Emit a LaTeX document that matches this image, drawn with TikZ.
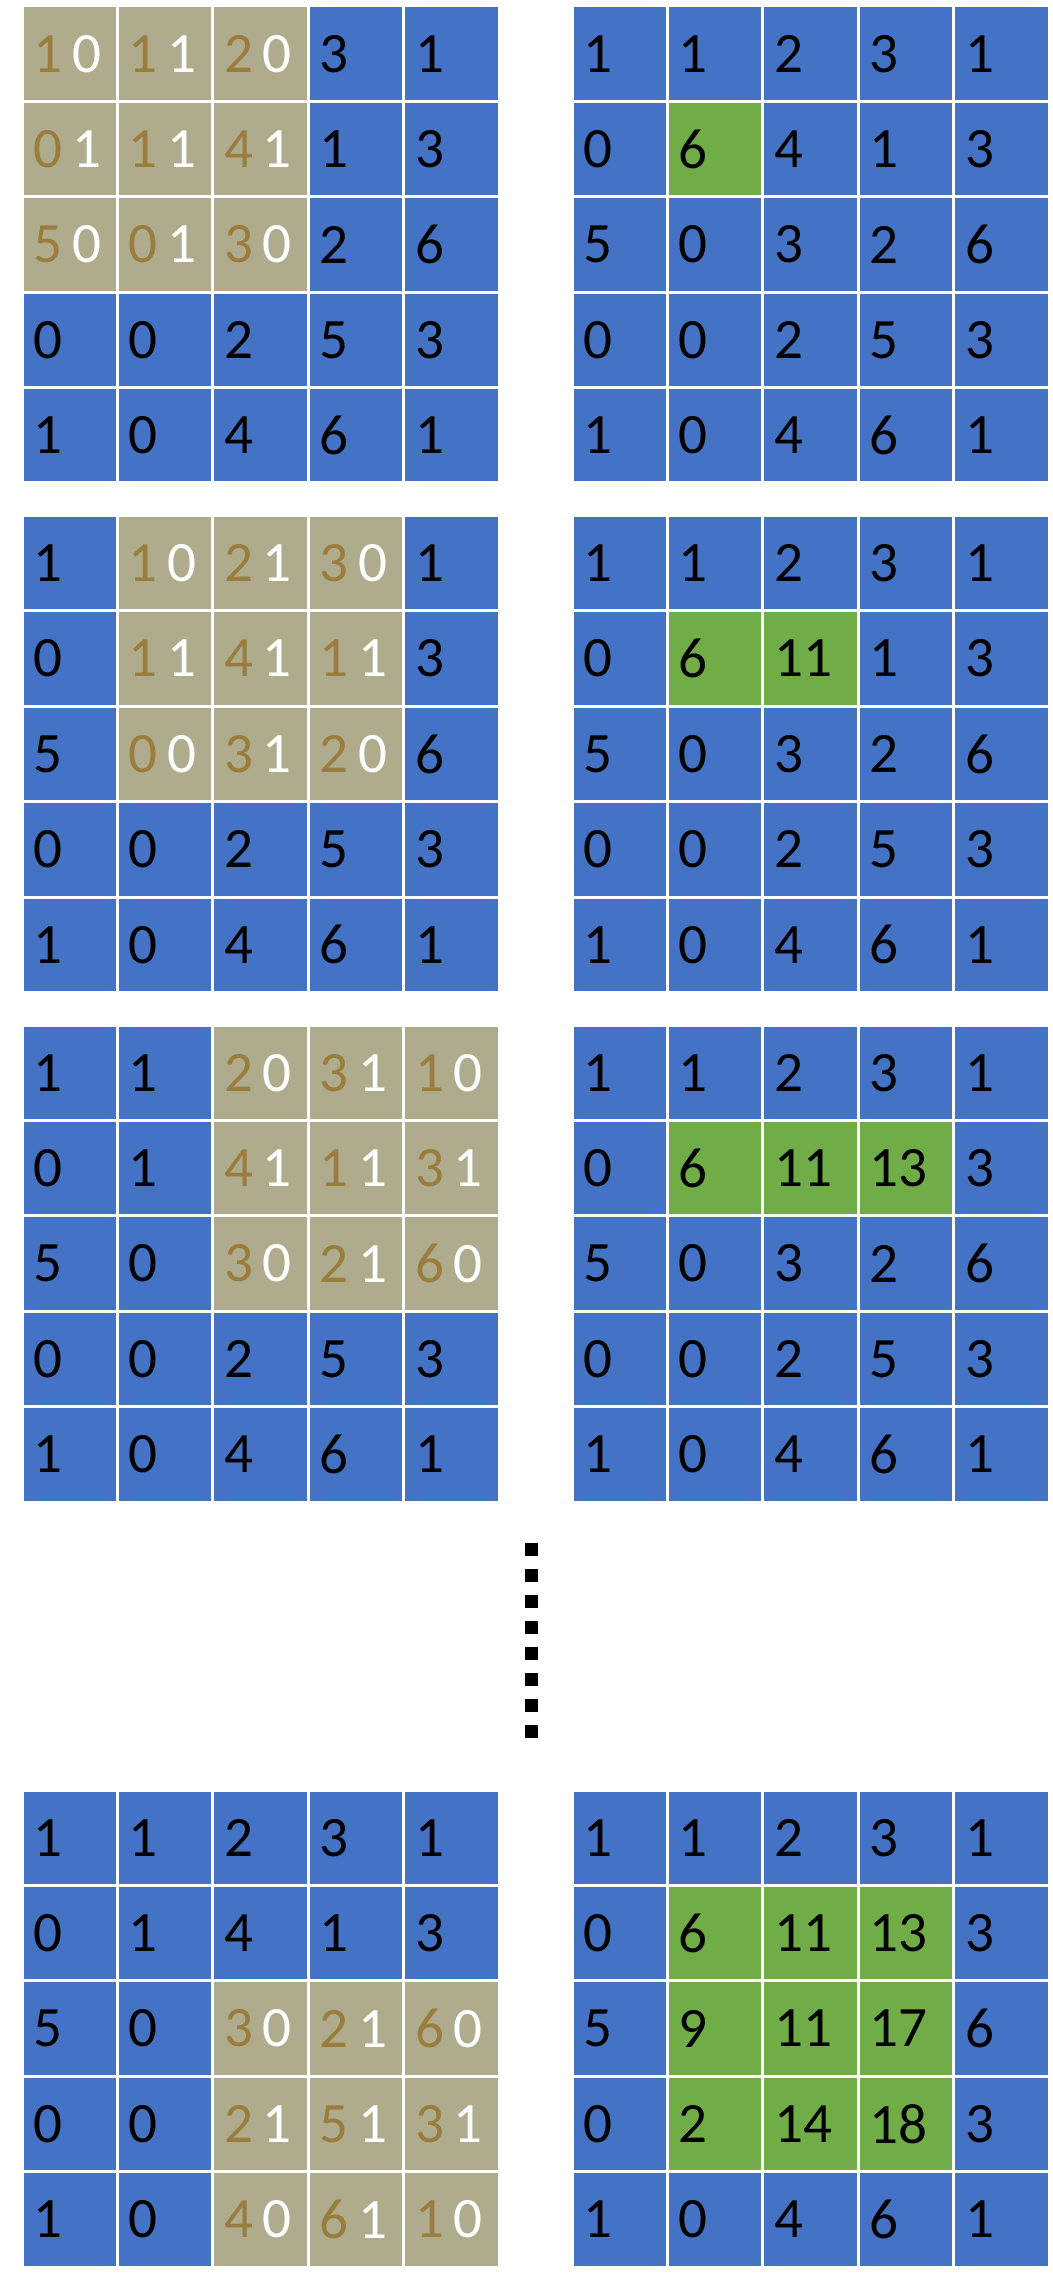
\documentclass[tikz,border=0pt]{standalone}
\usepackage{fontspec}
\setmainfont{Carlito}
\usepackage{xcolor}
\usetikzlibrary{positioning}

\definecolor{cellblue}{HTML}{4472C4}
\definecolor{celltan}{HTML}{AFAC8E}
\definecolor{cellgreen}{HTML}{70AD47}
\definecolor{digitbrown}{HTML}{9A7D3C}

\tikzset{
  cell/.style={rectangle, draw=white, line width=1.7pt, fill=cellblue,
    minimum width=1.908cm, minimum height=1.908cm,
    inner xsep=0.23cm, inner ysep=0pt, text width=1.448cm, align=left,
    font=\fontsize{32.5}{36}\selectfont},
  window/.style={cell, fill=celltan},
  result/.style={cell, fill=cellgreen}
}

\begin{document}
\begin{tikzpicture}[x=0.02cm, y=-0.02cm]
\useasboundingbox (0,0) rectangle (1052,2291);

\def\base{{1,1,2,3,1, 0,1,4,1,3, 5,0,3,2,6, 0,0,2,5,3, 1,0,4,6,1}}
\def\conv{{6,11,13, 9,11,17, 2,14,18}}

% left: input with the 3x3 window, right: output so far
\foreach \p/\ytop/\wr/\wc/\n in {1/6/0/0/1, 2/515.5/0/1/2, 3/1025/0/2/3, 4/1790/2/2/9} {
  \foreach \row in {0,...,4} {
    \foreach \col in {0,...,4} {
      \pgfmathtruncatemacro\v{\base[5*\row+\col]}
      \pgfmathtruncatemacro\dr{\row-\wr}
      \pgfmathtruncatemacro\dc{\col-\wc}
      \pgfmathtruncatemacro\inwin{and(and(\dr>=0,\dr<=2),and(\dc>=0,\dc<=2))}
      \pgfmathtruncatemacro\w{or(\dr==1,\dc==1)}
      \ifnum\inwin=1
        \node[window] (L\p-\row-\col) at (69.7+95.4*\col, \ytop+47.7+95.4*\row)
          {\color{digitbrown}\v\kern0.17em\color{white}\w};
      \else
        \node[cell] (L\p-\row-\col) at (69.7+95.4*\col, \ytop+47.7+95.4*\row) {\v};
      \fi
      \pgfmathtruncatemacro\k{3*(\row-1)+(\col-1)}
      \pgfmathtruncatemacro\ingreen{and(and(and(\row>=1,\row<=3),and(\col>=1,\col<=3)),\k<\n)}
      \ifnum\ingreen=1
        \pgfmathtruncatemacro\s{\conv[\k]}
        \node[result] (R\p-\row-\col) at (619.7+95.4*\col, \ytop+47.7+95.4*\row) {\s};
      \else
        \node[cell] (R\p-\row-\col) at (619.7+95.4*\col, \ytop+47.7+95.4*\row) {\v};
      \fi
    }
  }
}

% vertical ellipsis
\foreach \k in {0,...,7}
  \fill[black] (525, 1543+26*\k) rectangle +(13,13);

\end{tikzpicture}
\end{document}
